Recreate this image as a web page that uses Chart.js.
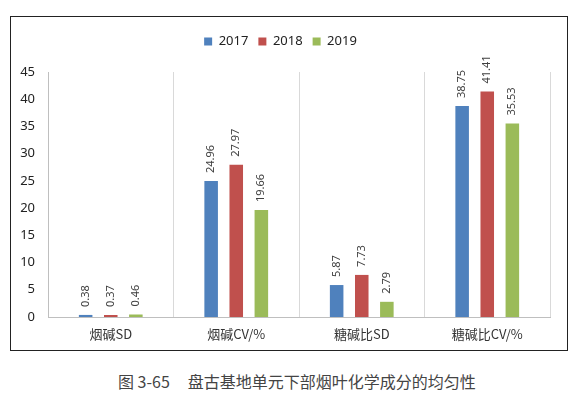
<!DOCTYPE html>
<html>
<head>
<meta charset="utf-8">
<script src="https://cdn.jsdelivr.net/npm/chart.js@4.4.1/dist/chart.umd.min.js"></script>
<style>
  body { margin: 0; background: #fff; width: 588px; height: 395px; position: relative; overflow: hidden; }
  #box { position: absolute; left: 10px; top: 16px; width: 556px; height: 333px; border: 1px solid #222; }
  #caption { position: absolute; left: 118px; top: 369px; font: 16px "Noto Sans CJK SC", sans-serif; color: #444; white-space: pre; }
</style>
</head>
<body>
<div id="box"><canvas id="chart" width="556" height="333"></canvas></div>
<div id="caption">图 3-65     盘古基地单元下部烟叶化学成分的均匀性</div>
<script>
const categories = ['烟碱SD', '烟碱CV/%', '糖碱比SD', '糖碱比CV/%'];
const years = ['2017', '2018', '2019'];
const values2017 = [0.38, 24.96, 5.87, 38.75];
const values2018 = [0.37, 27.97, 7.73, 41.41];
const values2019 = [0.46, 19.66, 2.79, 35.53];
const yTicks = [0, 5, 10, 15, 20, 25, 30, 35, 40, 45];
const colors = ['#4F81BD', '#C0504D', '#9BBB59'];

// rotated value labels above each bar
const valueLabels = {
  id: 'valueLabels',
  afterInit(chart) {
    // extra room under the legend
    const fit = chart.legend.fit;
    chart.legend.fit = function () { fit.call(this); this.height += 14; };
  },
  afterDatasetsDraw(chart) {
    const ctx = chart.ctx;
    ctx.save();
    ctx.font = '11px "Noto Sans", sans-serif';
    ctx.fillStyle = '#404040';
    ctx.textAlign = 'left';
    ctx.textBaseline = 'middle';
    chart.data.datasets.forEach((ds, i) => {
      chart.getDatasetMeta(i).data.forEach((bar, j) => {
        ctx.save();
        ctx.translate(bar.x, bar.y - 8);
        ctx.rotate(-Math.PI / 2);
        ctx.fillText(ds.data[j].toFixed(2), 0, 0);
        ctx.restore();
      });
    });
    ctx.restore();
  }
};

new Chart(document.getElementById('chart'), {
  type: 'bar',
  data: {
    labels: categories,
    datasets: [values2017, values2018, values2019].map((d, i) => ({
      label: years[i],
      data: d,
      backgroundColor: colors[i],
      categoryPercentage: 0.6,
      barPercentage: 0.54
    }))
  },
  options: {
    responsive: false,
    animation: false,
    devicePixelRatio: 1,
    layout: { padding: { top: 8, right: 17, left: 0, bottom: 0 } },
    plugins: {
      legend: {
        position: 'top',
        labels: {
          boxWidth: 8, boxHeight: 8, padding: 10,
          color: '#222',
          font: { size: 13, family: '"Noto Sans", sans-serif' }
        }
      },
      tooltip: { enabled: false }
    },
    scales: {
      x: {
        afterFit(s) { s.height = 33; },
        grid: { display: true, offset: true, color: '#d9d9d9', drawTicks: false },
        border: { color: '#bfbfbf' },
        ticks: { color: '#333', padding: 9, font: { size: 13, family: '"Noto Sans CJK SC", sans-serif' } }
      },
      y: {
        min: 0, max: 45,
        afterFit(s) { s.width = 37; },
        afterBuildTicks(s) { s.ticks = yTicks.map(v => ({ value: v })); },
        grid: { display: false, drawTicks: false },
        border: { color: '#bfbfbf' },
        ticks: { color: '#222', padding: 13, font: { size: 13, family: '"Noto Sans", sans-serif' } }
      }
    }
  },
  plugins: [valueLabels]
});
</script>
</body>
</html>
